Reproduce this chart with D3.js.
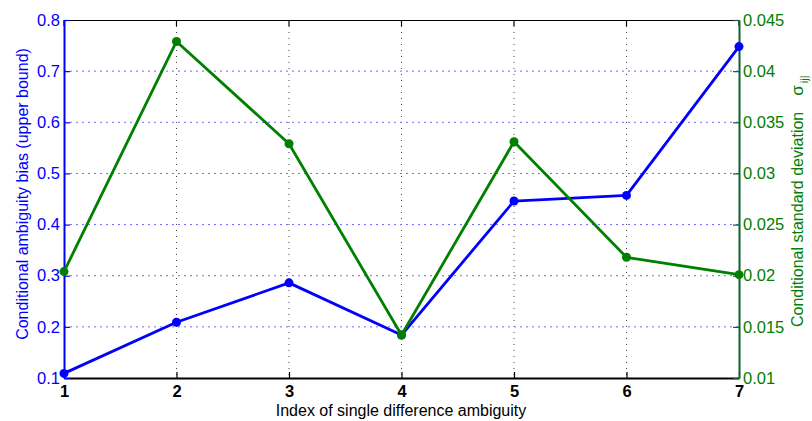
<!DOCTYPE html>
<html>
<head>
<meta charset="utf-8">
<script src="https://cdn.jsdelivr.net/npm/d3@7"></script>
<style>
  body { margin: 0; background: #fff; }
  svg { display: block; font-family: "Liberation Sans", Arial, sans-serif; }
</style>
</head>
<body>
<svg id="chart" width="812" height="421"></svg>
<script>
// Ambiguity indices
const indices = [1, 2, 3, 4, 5, 6, 7];
// Conditional ambiguity bias (upper bound), left axis
const biasValues = [0.109, 0.209, 0.286, 0.184, 0.446, 0.457, 0.748];
// Conditional standard deviation, right axis
const sigmaValues = [0.0204, 0.0429, 0.0329, 0.0142, 0.0331, 0.0218, 0.0201];
// Tick values
const xTicks = [1, 2, 3, 4, 5, 6, 7];
const leftTicks = [0.1, 0.2, 0.3, 0.4, 0.5, 0.6, 0.7, 0.8];
const rightTicks = [0.01, 0.015, 0.02, 0.025, 0.03, 0.035, 0.04, 0.045];

const BLUE = "#0000ff";
const GREEN = "#008000";
const GREEN_AXIS = "#0d5f35";
const FONT = "Liberation Sans, Arial, sans-serif";

const plotLeft = 64, plotRight = 739, plotTop = 20, plotBottom = 378;
const svg = d3.select("#chart");

const x = d3.scaleLinear().domain([1, 7]).range([plotLeft, plotRight]);
const yL = d3.scaleLinear().domain([0.1, 0.8]).range([plotBottom, plotTop]);
const yR = d3.scaleLinear().domain([0.01, 0.045]).range([plotBottom, plotTop]);

// grid lines
const grid = svg.append("g");
grid.selectAll("line.vg").data(xTicks.slice(1, -1)).join("line")
  .attr("x1", d => x(d)).attr("x2", d => x(d))
  .attr("y1", plotTop).attr("y2", plotBottom)
  .attr("stroke", "#444").attr("stroke-width", 1)
  .attr("stroke-dasharray", "1,5");
grid.selectAll("line.hg").data(leftTicks.slice(1, -1)).join("line")
  .attr("x1", plotLeft).attr("x2", plotRight)
  .attr("y1", d => yL(d)).attr("y2", d => yL(d))
  .attr("stroke", "#6a6aff").attr("stroke-width", 1)
  .attr("stroke-dasharray", "2,4");

// top border
svg.append("line").attr("x1", plotLeft).attr("x2", plotRight)
  .attr("y1", plotTop + 0.5).attr("y2", plotTop + 0.5)
  .attr("stroke", "#000").attr("stroke-width", 1.2);

// bottom axis
const xAxis = d3.axisBottom(x).tickValues(xTicks).tickFormat(d3.format("d"))
  .tickSizeInner(-6).tickSizeOuter(0).tickPadding(7);
const gx = svg.append("g").attr("transform", `translate(0,${plotBottom})`).call(xAxis);
gx.select(".domain").attr("stroke", "#000").attr("stroke-width", 2);
gx.selectAll(".tick line").attr("stroke", "#000").attr("stroke-width", 1.2);
gx.selectAll(".tick text").attr("fill", "#000").attr("font-size", 16.5)
  .attr("font-weight", "bold").attr("font-family", FONT);

// top ticks
svg.append("g").selectAll("line").data(xTicks).join("line")
  .attr("x1", d => x(d)).attr("x2", d => x(d))
  .attr("y1", plotTop).attr("y2", plotTop + 6)
  .attr("stroke", "#000").attr("stroke-width", 1.2);

// left axis
const leftAxis = d3.axisLeft(yL).tickValues(leftTicks).tickFormat(d3.format(".1f"))
  .tickSizeInner(-6).tickSizeOuter(0).tickPadding(4);
const gl = svg.append("g").attr("transform", `translate(${plotLeft},0)`).call(leftAxis);
gl.select(".domain").attr("stroke", BLUE).attr("stroke-width", 2);
gl.selectAll(".tick line").attr("stroke", BLUE).attr("stroke-width", 1.2);
gl.selectAll(".tick text").attr("fill", BLUE).attr("font-size", 16.5)
  .attr("font-family", FONT);

// right axis
const rightAxis = d3.axisRight(yR).tickValues(rightTicks).tickFormat(d => String(+d.toFixed(3)))
  .tickSizeInner(-6).tickSizeOuter(0).tickPadding(4);
const gr = svg.append("g").attr("transform", `translate(${plotRight},0)`).call(rightAxis);
gr.select(".domain").attr("stroke", GREEN_AXIS).attr("stroke-width", 2);
gr.selectAll(".tick line").attr("stroke", GREEN_AXIS).attr("stroke-width", 1.2);
gr.selectAll(".tick text").attr("fill", GREEN).attr("font-size", 16.5)
  .attr("font-family", FONT);

// series
const biasLine = d3.line().x((d, i) => x(indices[i])).y(d => yL(d));
const sigmaLine = d3.line().x((d, i) => x(indices[i])).y(d => yR(d));

svg.append("path").datum(biasValues).attr("d", biasLine)
  .attr("fill", "none").attr("stroke", BLUE).attr("stroke-width", 2.8)
  .attr("stroke-linejoin", "round");
svg.append("g").selectAll("circle").data(biasValues).join("circle")
  .attr("cx", (d, i) => x(indices[i])).attr("cy", d => yL(d)).attr("r", 4.5)
  .attr("fill", BLUE);

svg.append("path").datum(sigmaValues).attr("d", sigmaLine)
  .attr("fill", "none").attr("stroke", GREEN).attr("stroke-width", 2.8)
  .attr("stroke-linejoin", "round");
svg.append("g").selectAll("circle").data(sigmaValues).join("circle")
  .attr("cx", (d, i) => x(indices[i])).attr("cy", d => yR(d)).attr("r", 4.5)
  .attr("fill", GREEN);

// axis titles
svg.append("text")
  .attr("transform", "translate(28,194) rotate(-90)")
  .attr("text-anchor", "middle").attr("fill", BLUE).attr("font-size", 16)
  .text("Conditional ambiguity bias (upper bound)");

svg.append("text")
  .attr("x", 401).attr("y", 416)
  .attr("text-anchor", "middle").attr("fill", "#000").attr("font-size", 16)
  .text("Index of single difference ambiguity");

const rt = svg.append("text")
  .attr("transform", "translate(803,327) rotate(-90)")
  .attr("text-anchor", "start").attr("fill", GREEN).attr("font-size", 16);
rt.append("tspan").text("Conditional standard deviation");
rt.append("tspan").attr("dx", 16).attr("font-size", 17).text("σ");
rt.append("tspan").attr("dy", 5).attr("dx", 2).attr("font-size", 11).text("ij|");
</script>
</body>
</html>
